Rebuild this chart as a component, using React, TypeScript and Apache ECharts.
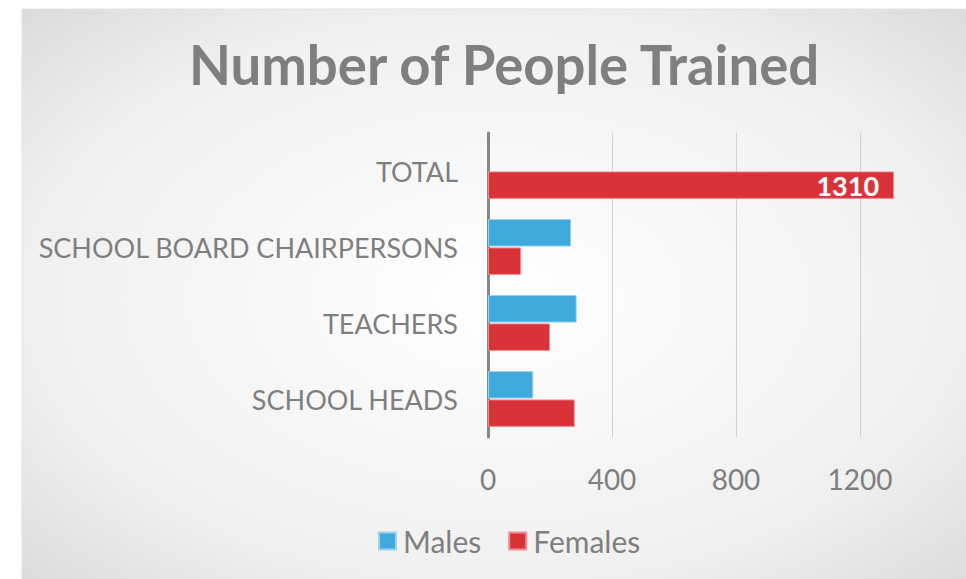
import React, { useEffect, useRef } from "react";
import * as echarts from "echarts";

const categories = ["SCHOOL HEADS", "TEACHERS", "SCHOOL BOARD CHAIRPERSONS", "TOTAL"];
const males: (number | null)[] = [146, 286, 268, null];
const females: number[] = [280, 200, 107, 1310];
const seriesNames = ["Males", "Females"];
const titleText = "Number of People Trained";

const FONT = "Lato";
const GRAY = "#7f7f7f";

export default function App() {
  const ref = useRef<HTMLDivElement>(null);
  useEffect(() => {
    if (!ref.current) return;
    const chart = echarts.init(ref.current, undefined, { renderer: "svg" });
    chart.setOption({
      animation: false,
      backgroundColor: "#ffffff",
      graphic: [
        {
          type: "rect",
          z: -10,
          silent: true,
          shape: { x: 22, y: 9, width: 950, height: 575 },
          style: {
            fill: new echarts.graphic.RadialGradient(0.5, 0.5, 1.0, [
              { offset: 0, color: "#ffffff" },
              { offset: 0.49, color: "#f0f0f0" },
              { offset: 0.82, color: "#d0d0d0" },
              { offset: 0.95, color: "#c3c3c3" },
              { offset: 1, color: "#c0c0c0" },
            ]),
            stroke: "#e2e2e2",
            lineWidth: 1,
          },
        },
      ],
      title: {
        text: titleText,
        left: 189,
        top: 36,
        padding: 0,
        textStyle: { fontFamily: FONT, fontWeight: "bold", fontSize: 54.5, color: GRAY },
      },
      legend: {
        data: seriesNames,
        left: 378,
        top: 526,
        padding: 0,
        itemWidth: 17,
        itemHeight: 17,
        itemGap: 27,
        icon: "rect",
        textStyle: { fontFamily: FONT, fontSize: 30, color: GRAY, padding: [0, 0, 0, 2] },
      },
      grid: { left: 488, top: 133, width: 434, height: 304, containLabel: false },
      xAxis: {
        type: "value",
        min: 0,
        max: 1400,
        interval: 400,
        axisLine: { show: false },
        axisTick: { show: false },
        splitLine: {
          show: true,
          showMinLine: false,
          showMaxLine: false,
          lineStyle: { color: "#d2d2d2", width: 1 },
        },
        axisLabel: {
          margin: 28,
          fontFamily: FONT,
          fontSize: 28,
          color: GRAY,
          showMaxLabel: false,
          formatter: (v: number) => (v > 1200 ? "" : String(v)),
        },
      },
      yAxis: {
        type: "category",
        data: categories,
        axisLine: { show: true, lineStyle: { color: "#878787", width: 3 } },
        axisTick: { show: false },
        axisLabel: { margin: 30, fontFamily: FONT, fontSize: 27, color: GRAY },
      },
      series: [
        {
          name: seriesNames[0],
          type: "bar",
          data: males,
          barWidth: 27.5,
          barGap: "3%",
          itemStyle: { color: "#3fa9dc", borderColor: "#9ad3f0", borderWidth: 1 },
        },
        {
          name: seriesNames[1],
          type: "bar",
          data: females,
          barWidth: 27.5,
          barGap: "3%",
          itemStyle: { color: "#d9333a", borderColor: "#ef8d91", borderWidth: 1 },
          label: {
            show: true,
            position: "insideRight",
            distance: 15,
            fontFamily: FONT,
            fontWeight: "bold",
            fontSize: 27,
            color: "#ffffff",
            formatter: (p: any) => (p.value >= 1000 ? String(p.value) : ""),
          },
        },
      ],
    });
    return () => chart.dispose();
  }, []);
  return (
    <div
      ref={ref}
      style={{ position: "absolute", left: 0, top: 0, width: 966, height: 579 }}
    />
  );
}
